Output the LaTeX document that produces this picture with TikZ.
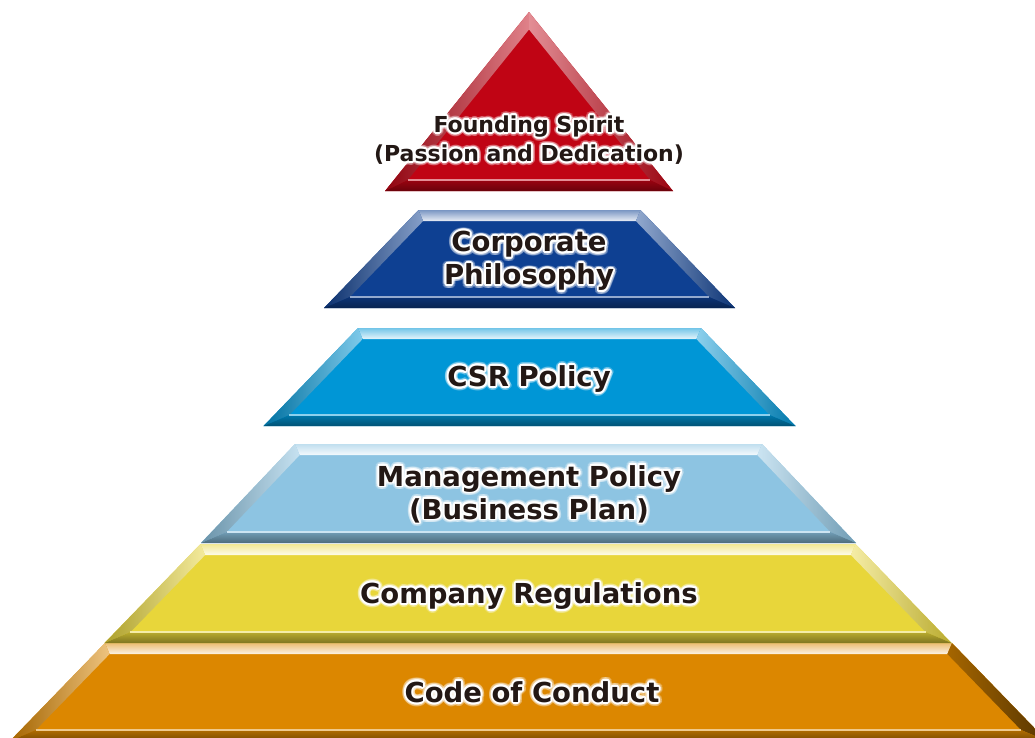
\documentclass[tikz,border=0pt]{standalone}
\usepackage{fontspec}
\newfontfamily\lblfont{DejaVu Sans}
\usetikzlibrary{calc}
\definecolor{tred}{RGB}{192,4,20}
\definecolor{tnavy}{RGB}{14,64,146}
\definecolor{tcyan}{RGB}{0,150,214}
\definecolor{tlight}{RGB}{141,196,226}
\definecolor{tyellow}{RGB}{232,214,58}
\definecolor{torange}{RGB}{220,135,0}
\definecolor{txt}{RGB}{35,24,21}
\tikzset{
  topface/.style={top color=#1!55!white, bottom color=#1!10!white},
  leftface/.style={left color=#1!75!black, middle color=#1!10!white, right color=#1!50!white},
  rightlight/.style={left color=#1!45!white, middle color=#1!15!white, right color=#1!80!black},
  rightdark/.style={left color=#1!75!black, middle color=#1!55!black, right color=#1!40!black},
  bottomface/.style={top color=#1!80!black, bottom color=#1!55!black},
  lbl/.style={align=center, text=txt, inner sep=0pt},
  bigfont/.style={font=\lblfont\bfseries\fontsize{27.5}{33}\selectfont},
  smallfont/.style={font=\lblfont\bfseries\fontsize{22}{29}\selectfont},
}
\newcommand\bevd{11}
% #1 centre x, #2 top y, #3 bottom y, #4 top half width, #5 bottom half width, #6 colour, #7 right face style
\newcommand\tier[7]{%
  \pgfmathsetmacro\tS{(#5-#4)/(#3-#2)}%
  \pgfmathsetmacro\tH{\bevd*sqrt(1+\tS*\tS)}%
  \pgfmathsetmacro\tITW{#4+\tS*\bevd-\tH}%
  \pgfmathsetmacro\tIBW{#5-\tS*\bevd-\tH}%
  \pgfmathsetmacro\tIT{#2+\bevd}%
  \pgfmathsetmacro\tIB{#3-\bevd}%
  \coordinate (otl) at ({#1-#4},#2);
  \coordinate (otr) at ({#1+#4},#2);
  \coordinate (obl) at ({#1-#5},#3);
  \coordinate (obr) at ({#1+#5},#3);
  \coordinate (itl) at ({#1-\tITW},\tIT);
  \coordinate (itr) at ({#1+\tITW},\tIT);
  \coordinate (ibl) at ({#1-\tIBW},\tIB);
  \coordinate (ibr) at ({#1+\tIBW},\tIB);
  \fill[#6] (otl)--(otr)--(obr)--(obl)--cycle;
  \shade[topface=#6] (otl)--(otr)--(itr)--(itl)--cycle;
  \shade[leftface=#6] (otl)--(itl)--(ibl)--(obl)--cycle;
  \shade[#7=#6] (otr)--(obr)--(ibr)--(itr)--cycle;
  \shade[bottomface=#6] (obl)--(obr)--(ibr)--(ibl)--cycle;
  \draw[#6!45!white, line width=1.2pt] (ibl)--(ibr);
}
% #1 name, #2 x, #3 y, #4 font style, #5 text
\newcommand\glow[5]{%
  \foreach \ga in {0,20,...,340}{
    \node[lbl,#4,text=white,opacity=0.22] at ($(#2,#3)+(\ga:3.8)$) {#5};
    \node[lbl,#4,text=white] at ($(#2,#3)+(\ga:1.8)$) {#5};
  }
  \node[lbl,#4] (#1) at (#2,#3) {#5};
}
\begin{document}
\begin{tikzpicture}[x=1pt,y=-1pt]
\useasboundingbox (0,0) rectangle (1035,737);
\fill[white] (0,0) rectangle (1035,737);
% tiers, bottom to top
\tier{528.5}{643}{741}{423.5}{518.6}{torange}{rightdark}
\tier{528}{544}{643}{327.5}{423.5}{tyellow}{rightlight}
\tier{528.5}{444}{543}{233.5}{327.5}{tlight}{rightlight}
\tier{529.5}{328}{426}{171.5}{266}{tcyan}{rightlight}
\tier{529.5}{210}{308}{111}{205.5}{tnavy}{rightlight}
% red triangle
\coordinate (ra) at (529,12);
\coordinate (rl) at (385,191);
\coordinate (rr) at (673,191);
\coordinate (ia) at (529,29.5);
\coordinate (il) at (407.9,180);
\coordinate (ir) at (650.1,180);
\fill[tred] (ra)--(rr)--(rl)--cycle;
\shade[leftface=tred] (ra)--(ia)--(il)--(rl)--cycle;
\shade[rightlight=tred] (ra)--(rr)--(ir)--(ia)--cycle;
\shade[bottomface=tred] (rl)--(rr)--(ir)--(il)--cycle;
\draw[tred!45!white, line width=1.2pt] (il)--(ir);
% labels
\glow{founding}{529}{140}{smallfont}{Founding Spirit\\(Passion and Dedication)}
\glow{philosophy}{529}{261}{bigfont}{Corporate\\Philosophy}
\glow{csr}{529}{379}{bigfont}{CSR Policy}
\glow{management}{529}{494}{bigfont}{Management Policy\\(Business Plan)}
\glow{regulations}{529}{596}{bigfont}{Company Regulations}
\glow{conduct}{532}{692}{bigfont}{Code of Conduct}
\end{tikzpicture}
\end{document}
